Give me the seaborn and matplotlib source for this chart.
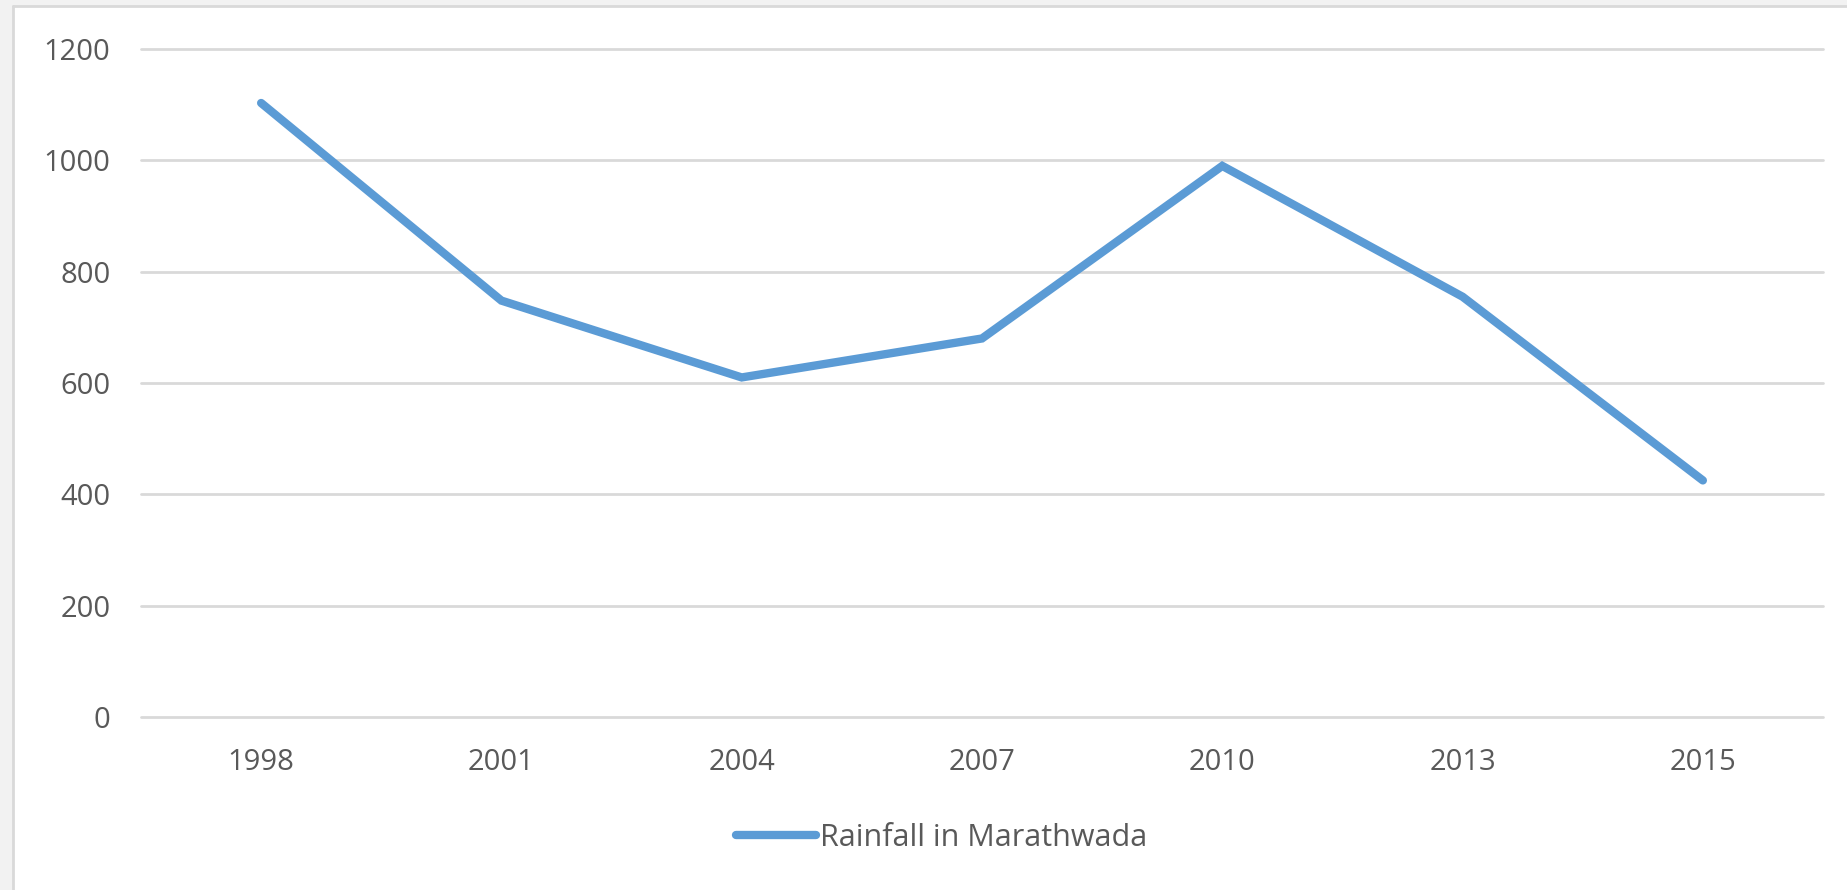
import matplotlib
matplotlib.use("Agg")
import pandas as pd
import seaborn as sns
import matplotlib.pyplot as plt
from matplotlib.patches import Rectangle
from matplotlib.lines import Line2D

# --------------------------
# Data
# --------------------------
years = ["1998", "2001", "2004", "2007", "2010", "2013", "2015"]
rainfall = [1103, 748, 610, 680, 990, 755, 425]
series_name = "Rainfall in Marathwada"
yticks = [0, 200, 400, 600, 800, 1000, 1200]

sns.set_theme(style="white")
plt.rcParams["font.family"] = ["Open Sans", "DejaVu Sans"]

df = pd.DataFrame({"year": years, "rainfall": rainfall})

fig = plt.figure(figsize=(18.47, 8.9), dpi=100)
fig.patch.set_facecolor("#f2f2f2")

# white chart area, grey frame only on the left and top edges
x0, y1 = 13 / 1847, 1 - 6 / 890
fig.add_artist(Rectangle((x0, 0), 1 - x0, y1, transform=fig.transFigure,
                         facecolor="white", edgecolor="none", zorder=0))
fig.add_artist(Line2D([x0, x0], [0, y1], transform=fig.transFigure,
                      color="#d9d9d9", linewidth=2, zorder=0.5))
fig.add_artist(Line2D([x0, 1], [y1, y1], transform=fig.transFigure,
                      color="#d9d9d9", linewidth=2, zorder=0.5))

ax = fig.add_axes([141 / 1847, 1 - 717 / 890, (1823 - 141) / 1847, (717 - 49) / 890])
ax.set_facecolor("none")

sns.lineplot(data=df, x="year", y="rainfall", ax=ax, color="#5b9bd5",
             linewidth=6, label=series_name, solid_capstyle="round",
             solid_joinstyle="miter", sort=False)

ax.set_xlim(-0.5, len(years) - 0.5)
ax.set_ylim(0, 1200)
ax.set_yticks(yticks)
ax.set_yticklabels([str(v) for v in yticks])
ax.yaxis.grid(True, color="#d9d9d9", linewidth=2)
ax.xaxis.grid(False)
for gl in ax.get_ygridlines():
    gl.set_clip_on(False)
for s in ax.spines.values():
    s.set_visible(False)
ax.set_xlabel("")
ax.set_ylabel("")
ax.tick_params(axis="both", length=0, labelsize=21, labelcolor="#595959")
ax.tick_params(axis="x", pad=22)
ax.tick_params(axis="y", pad=22)

leg = ax.legend(loc="center", bbox_to_anchor=(942 / 1847, 1 - 838 / 890),
                bbox_transform=fig.transFigure, frameon=False, fontsize=22,
                handlelength=2.6, handletextpad=0.15)
for t in leg.get_texts():
    t.set_color("#595959")

plt.savefig("out.png", dpi=100, facecolor=fig.get_facecolor())
plt.close("all")
